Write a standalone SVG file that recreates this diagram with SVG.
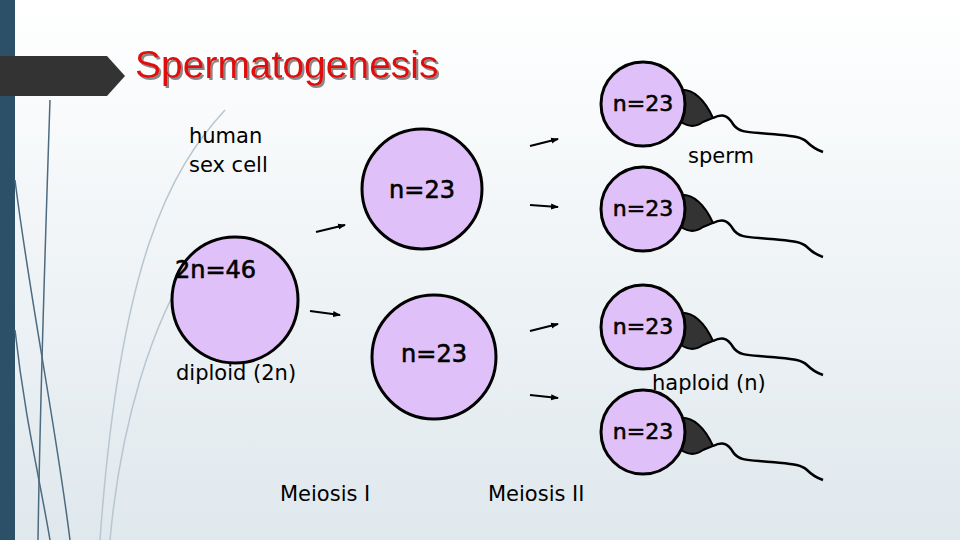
<svg xmlns="http://www.w3.org/2000/svg" width="960" height="540" viewBox="0 0 960 540">
<defs>
<linearGradient id="bg" x1="0" y1="0" x2="0" y2="1"><stop offset="0" stop-color="#ffffff"/><stop offset="1" stop-color="#dfe8ed"/></linearGradient>
<filter id="sh" x="-5%" y="-20%" width="110%" height="140%"><feDropShadow dx="2" dy="2" stdDeviation="0.6" flood-color="#888"/></filter>
<marker id="ah" markerWidth="8" markerHeight="8" refX="7" refY="4" orient="auto" markerUnits="userSpaceOnUse"><path d="M0,1 L8,4 L0,7 Z" fill="#000"/></marker>
<g id="sp">
<path d="M36,-14 C50,-16 62,-4 70,14 L60,18 C52,24 44,22 38,18 Z" fill="#333" stroke="#000" stroke-width="2"/>
<path d="M70,14 C78,10 84,10 90,20 C96,30 110,28 128,30 C148,32 158,32 164,38 C170,44 174,46 180,48" fill="none" stroke="#000" stroke-width="2.5"/>
</g>
<style>
.c{fill:#e0c0f8;stroke:#000;stroke-width:3}
.t{font-family:"DejaVu Sans",sans-serif;font-size:21px;fill:#000}
.b{font-family:"DejaVu Sans",sans-serif;font-size:24px;fill:#000;stroke:#000;stroke-width:0.6}
.s{font-size:22px}
.a{stroke:#000;stroke-width:2;marker-end:url(#ah)}
</style>
</defs>
<rect width="960" height="540" fill="url(#bg)"/>
<rect x="0" y="0" width="15" height="540" fill="#2b5068"/>
<g fill="none" stroke="#4c6a80" stroke-width="1.5">
<path d="M50,100 C45,250 40,400 38,540"/>
<path d="M15,180 C30,300 55,420 70,540"/>
<path d="M15,330 C25,420 40,480 50,540"/>
</g>
<g fill="none" stroke="#b8c6d0" stroke-width="1.5">
<path d="M225,110 C170,170 120,260 100,540"/>
<path d="M200,250 C150,320 120,430 110,540"/>
</g>
<path d="M0,56 L107,56 L125,76 L107,96 L0,96 Z" fill="#333"/>
<text x="135" y="78" font-family="Liberation Sans, sans-serif" font-size="39" fill="#e01010" filter="url(#sh)">Spermatogenesis</text>
<g id="labels">
<text class="t" x="189" y="143">human</text>
<text class="t" x="189" y="172">sex cell</text>
<text class="t" x="688" y="163">sperm</text>
<text class="t" x="652" y="390">haploid (n)</text>
<text class="t" x="280" y="501">Meiosis I</text>
<text class="t" x="488" y="501">Meiosis II</text>
</g>
<g id="parent"><circle class="c" cx="235" cy="300" r="63"/><text class="b" x="175" y="278">2n=46</text><text class="t" x="176" y="380">diploid (2n)</text></g>
<g id="m1a"><circle class="c" cx="422" cy="189" r="60"/><text class="b" x="422" y="198" text-anchor="middle">n=23</text></g>
<g id="m1b"><circle class="c" cx="434" cy="357" r="62"/><text class="b" x="434" y="362" text-anchor="middle">n=23</text></g>
<g id="s1"><use href="#sp" x="643" y="104"/><circle class="c" cx="643" cy="104" r="42"/><text class="b s" x="643" y="111" text-anchor="middle">n=23</text></g>
<g id="s2"><use href="#sp" x="643" y="209"/><circle class="c" cx="643" cy="209" r="42"/><text class="b s" x="643" y="216" text-anchor="middle">n=23</text></g>
<g id="s3"><use href="#sp" x="643" y="327"/><circle class="c" cx="643" cy="327" r="42"/><text class="b s" x="643" y="334" text-anchor="middle">n=23</text></g>
<g id="s4"><use href="#sp" x="643" y="432"/><circle class="c" cx="643" cy="432" r="42"/><text class="b s" x="643" y="439" text-anchor="middle">n=23</text></g>
<g id="connectors">
<line class="a" x1="316" y1="232" x2="345" y2="225"/>
<line class="a" x1="310" y1="311" x2="340" y2="315"/>
<line class="a" x1="530" y1="146" x2="558" y2="139"/>
<line class="a" x1="530" y1="205" x2="558" y2="207"/>
<line class="a" x1="530" y1="331" x2="558" y2="324"/>
<line class="a" x1="530" y1="395" x2="558" y2="398"/>
</g>
</svg>
